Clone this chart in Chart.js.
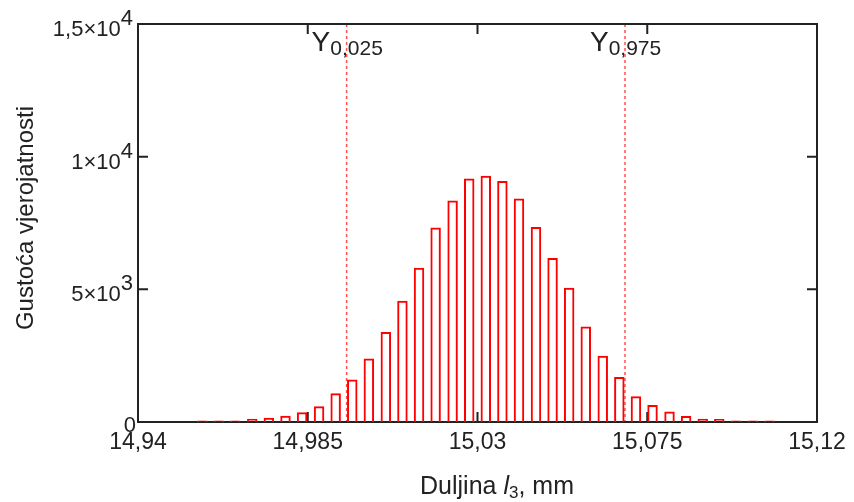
<!DOCTYPE html>
<html>
<head>
<meta charset="utf-8">
<script src="https://cdn.jsdelivr.net/npm/chart.js@4.4.1/dist/chart.umd.min.js"></script>
<style>
  html, body { margin: 0; padding: 0; background: #fff; }
</style>
</head>
<body>
<canvas id="histChart" width="854" height="502"></canvas>
<script>
// bin centres (mm) and density
const binCenters = [
  14.9570, 14.9614, 14.9658, 14.9703, 14.9747, 14.9791, 14.9835, 14.9880, 14.9924,
  14.9968, 15.0012, 15.0057, 15.0101, 15.0145, 15.0189, 15.0234, 15.0278, 15.0322,
  15.0366, 15.0410, 15.0455, 15.0499, 15.0543, 15.0587, 15.0632, 15.0676, 15.0720,
  15.0764, 15.0809, 15.0853, 15.0897, 15.0941, 15.0986, 15.1030, 15.1074
];
const density = [
  60, 60, 60, 120, 160, 240, 370, 595, 1080,
  1600, 2390, 3395, 4570, 5815, 7330, 8350, 9180, 9280,
  9080, 8420, 7350, 6180, 5060, 3600, 2500, 1700, 970,
  640, 395, 225, 120, 110, 60, 60, 60
];

const xTicks = [14.94, 14.985, 15.03, 15.075, 15.12];
const yTicks = [0, 5000, 10000, 15000];
const yTickBase = ["0", "5×10", "1×10", "1,5×10"];
const yTickExp = ["", "3", "4", "4"];

const quantileValues = [14.9953, 15.0691];
const quantileSubs = ["0,025", "0,975"];

const FONT = "Arial, 'Liberation Sans', sans-serif";
const INK = "#222";

// frame, inward ticks, dashed quantile lines and all the hand-set text
const decorations = {
  id: "decorations",
  beforeDatasetsDraw(chart) {
    const { ctx, chartArea: a, scales: { x, y } } = chart;
    ctx.save();

    ctx.strokeStyle = "rgba(255,60,60,0.9)";
    ctx.lineWidth = 1.5;
    ctx.setLineDash([3, 3]);
    quantileValues.forEach(q => {
      const px = x.getPixelForValue(q);
      ctx.beginPath();
      ctx.moveTo(px, a.top);
      ctx.lineTo(px, a.bottom);
      ctx.stroke();
    });
    ctx.setLineDash([]);

    ctx.strokeStyle = INK;
    ctx.lineWidth = 2;
    ctx.strokeRect(a.left, a.top, a.right - a.left, a.bottom - a.top);

    ctx.beginPath();
    xTicks.slice(1, -1).forEach(v => {
      const px = x.getPixelForValue(v);
      ctx.moveTo(px, a.bottom); ctx.lineTo(px, a.bottom - 10);
      ctx.moveTo(px, a.top); ctx.lineTo(px, a.top + 10);
    });
    yTicks.slice(1, -1).forEach(v => {
      const py = y.getPixelForValue(v);
      ctx.moveTo(a.left, py); ctx.lineTo(a.left + 10, py);
      ctx.moveTo(a.right, py); ctx.lineTo(a.right - 10, py);
    });
    ctx.stroke();
    ctx.restore();
  },
  afterDraw(chart) {
    const { ctx, chartArea: a, scales: { x, y } } = chart;
    ctx.save();
    ctx.fillStyle = INK;
    ctx.textBaseline = "alphabetic";

    // y tick labels with full-size exponents
    ctx.textAlign = "right";
    ctx.font = "22px " + FONT;
    yTicks.forEach((v, i) => {
      const py = y.getPixelForValue(v);
      if (yTickExp[i]) {
        const supW = ctx.measureText(yTickExp[i]).width;
        ctx.fillText(yTickExp[i], a.left - 5, py + 1);
        ctx.fillText(yTickBase[i], a.left - 5 - supW, py + 12);
      } else {
        ctx.fillText(yTickBase[i], a.left - 2, py + 10);
      }
    });

    // Y0,025 / Y0,975 labels
    ctx.textAlign = "left";
    quantileValues.forEach((q, i) => {
      const px = x.getPixelForValue(q) - 35;
      ctx.font = "28px " + FONT;
      ctx.fillText("Y", px, 51);
      const yw = ctx.measureText("Y").width;
      ctx.font = "21px " + FONT;
      ctx.fillText(quantileSubs[i], px + yw, 55);
    });

    // x title: Duljina l3, mm
    const parts = [
      { t: "Duljina ", f: "25px " + FONT, dy: 0 },
      { t: "l", f: "italic 25px " + FONT, dy: 0 },
      { t: "3", f: "17px " + FONT, dy: 4 },
      { t: ", mm", f: "25px " + FONT, dy: 0 }
    ];
    let total = 0;
    parts.forEach(p => { ctx.font = p.f; p.w = ctx.measureText(p.t).width; total += p.w; });
    let tx = 497 - total / 2;
    parts.forEach(p => {
      ctx.font = p.f;
      ctx.fillText(p.t, tx, 494 + p.dy);
      tx += p.w;
    });

    // y title
    ctx.translate(33, 218);
    ctx.rotate(-Math.PI / 2);
    ctx.textAlign = "center";
    ctx.font = "24px " + FONT;
    ctx.fillText("Gustoća vjerojatnosti", 0, 0);
    ctx.restore();
  }
};

new Chart(document.getElementById("histChart"), {
  type: "bar",
  data: {
    datasets: [{
      data: binCenters.map((c, i) => ({ x: c, y: density[i] })),
      backgroundColor: "rgba(255,255,255,0)",
      borderColor: "#ff0000",
      borderWidth: 2,
      barPercentage: 0.63,
      categoryPercentage: 1
    }]
  },
  options: {
    responsive: false,
    animation: false,
    layout: { padding: { top: 24, right: 37, left: 0, bottom: 0 } },
    plugins: { legend: { display: false }, tooltip: { enabled: false } },
    scales: {
      x: {
        type: "linear",
        offset: false,
        min: 14.94,
        max: 15.12,
        grid: { display: false, drawTicks: false, offset: false },
        border: { display: false },
        afterBuildTicks: s => { s.ticks = xTicks.map(v => ({ value: v })); },
        afterFit: s => { s.height = 80; },
        ticks: {
          padding: 7,
          color: INK,
          maxRotation: 0,
          autoSkip: false,
          font: { family: FONT, size: 23 },
          callback: v => String(v).replace(".", ",")
        }
      },
      y: {
        min: 0,
        max: 15000,
        grid: { display: false, drawTicks: false },
        border: { display: false },
        ticks: { display: false },
        afterFit: s => { s.width = 138; }
      }
    }
  },
  plugins: [decorations]
});
</script>
</body>
</html>
